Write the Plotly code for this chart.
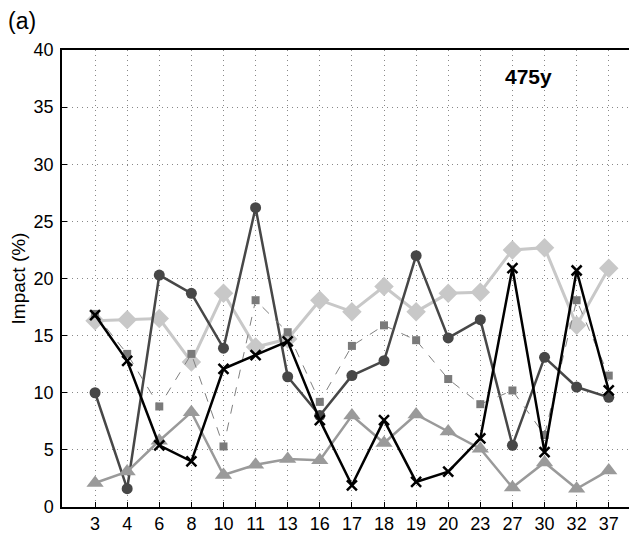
import plotly.graph_objects as go

categories = ["3", "4", "6", "8", "10", "11", "13", "16", "17", "18", "19", "20", "23", "27", "30", "32", "37"]

series_circle = [10.0, 1.6, 20.3, 18.7, 13.9, 26.2, 11.4, 8.0, 11.5, 12.8, 22.0, 14.8, 16.4, 5.4, 13.1, 10.5, 9.6]
series_cross = [16.8, 12.8, 5.4, 4.0, 12.1, 13.3, 14.5, 7.6, 1.9, 7.6, 2.2, 3.1, 6.0, 20.9, 4.8, 20.7, 10.2]
series_diamond = [16.3, 16.4, 16.5, 12.7, 18.7, 14.0, 14.7, 18.1, 17.1, 19.3, 17.1, 18.7, 18.8, 22.5, 22.7, 15.9, 20.9]
series_triangle = [2.1, 3.1, 5.8, 8.3, 2.8, 3.7, 4.2, 4.1, 8.0, 5.6, 8.1, 6.6, 5.1, 1.7, 3.9, 1.6, 3.2]
series_square = [16.9, 13.4, 8.8, 13.4, 5.3, 18.1, 15.3, 9.2, 14.1, 15.9, 14.6, 11.2, 9.0, 10.2, 6.3, 18.1, 11.5]

y_ticks = [0, 5, 10, 15, 20, 25, 30, 35, 40]

x_idx = list(range(len(categories)))

fig = go.Figure()

fig.add_trace(go.Scatter(
    x=x_idx, y=series_diamond, mode="lines+markers",
    line=dict(color="#c8c8c8", width=3),
    marker=dict(symbol="diamond", size=15, color="#c8c8c8"),
))
fig.add_trace(go.Scatter(
    x=x_idx, y=series_circle, mode="lines+markers",
    line=dict(color="#474747", width=2.5),
    marker=dict(symbol="circle", size=11, color="#474747"),
))
fig.add_trace(go.Scatter(
    x=x_idx, y=series_triangle, mode="lines+markers",
    line=dict(color="#9a9a9a", width=2.5),
    marker=dict(symbol="triangle-up", size=15, color="#9a9a9a"),
))
fig.add_trace(go.Scatter(
    x=x_idx, y=series_square, mode="lines+markers",
    line=dict(color="#808080", width=1, dash="dash"),
    marker=dict(symbol="square", size=8, color="#7a7a7a"),
))
fig.add_trace(go.Scatter(
    x=x_idx, y=series_cross, mode="lines+markers",
    line=dict(color="#000000", width=2.5),
    marker=dict(symbol="x-thin", size=10, color="#000000",
                line=dict(color="#000000", width=2.5)),
))

fig.add_annotation(
    x=13.5, y=37.7, xref="x", yref="y", text="<b>475y</b>", showarrow=False,
    font=dict(family="Liberation Sans, Arial", size=21, color="#000"),
)
fig.add_annotation(
    x=0.0, y=1.0, xref="paper", yref="paper", xanchor="left", yanchor="top",
    xshift=-56, yshift=44,
    text="(a)", showarrow=False,
    font=dict(family="Liberation Sans, Arial", size=23, color="#000"),
)

fig.update_layout(
    width=629, height=529,
    margin=dict(l=54, r=0, t=42, b=30),
    paper_bgcolor="white", plot_bgcolor="white",
    showlegend=False,
    font=dict(family="Liberation Sans, Arial", size=18, color="#000"),
    xaxis=dict(
        range=[-1.03, 16.88],
        tickmode="array", tickvals=x_idx, ticktext=categories,
        showgrid=True, gridcolor="#888", griddash="1px,4px", gridwidth=1,
        showline=True, linecolor="#000", linewidth=1.5, mirror=True,
        ticks="inside", ticklen=5, tickcolor="#000",
        zeroline=False, tickfont=dict(size=18),
    ),
    yaxis=dict(
        range=[0, 40],
        tickmode="array", tickvals=y_ticks, ticktext=[str(v) for v in y_ticks],
        showgrid=True, gridcolor="#888", griddash="1px,4px", gridwidth=1,
        showline=True, linecolor="#000", linewidth=1.5,
        ticks="inside", ticklen=5, tickcolor="#000",
        ticklabelstandoff=3,
        zeroline=False, tickfont=dict(size=18),
        title=dict(text="Impact (%)", font=dict(size=19), standoff=6),
    ),
)

fig.write_html("out.html")
